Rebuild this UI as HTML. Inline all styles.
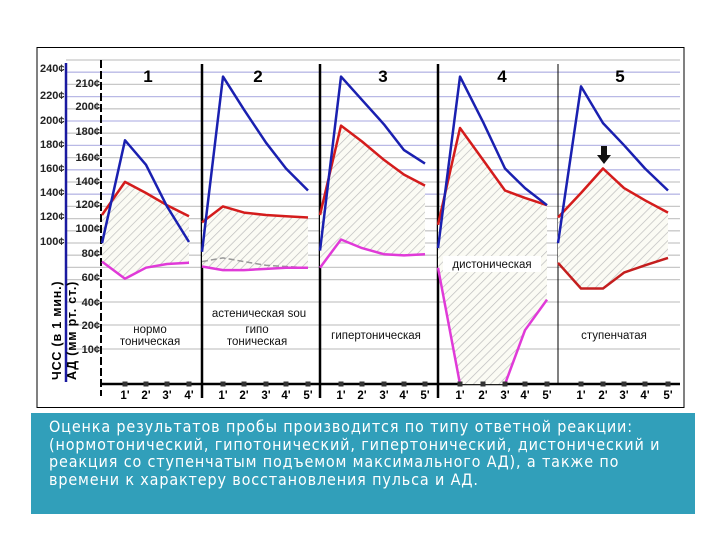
<!DOCTYPE html>
<html><head><meta charset="utf-8"><style>
body{margin:0;background:#fff;width:720px;height:540px;overflow:hidden;font-family:"Liberation Sans",sans-serif}
#note{position:absolute;left:31px;top:413px;width:664px;height:101px;background:#319fba;color:#fff;font-family:"DejaVu Sans Condensed","DejaVu Sans",sans-serif;font-size:16px;line-height:17.5px;padding:5px 0 0 18px;box-sizing:border-box;letter-spacing:0.85px;white-space:nowrap}
</style></head><body>
<svg id="chart" width="720" height="410" style="position:absolute;left:0;top:0" font-family="Liberation Sans, sans-serif">
<defs><pattern id="hatch" patternUnits="userSpaceOnUse" width="6" height="6" patternTransform="rotate(45)"><rect width="6" height="6" fill="#fbfbf4"/><line x1="0" y1="0" x2="0" y2="6" stroke="#bdbdbd" stroke-width="1.4"/></pattern></defs>
<rect x="37" y="47.5" width="647" height="360" fill="none" stroke="#000" stroke-width="1"/>
<g id="grid"></g><g id="fills"></g><g id="series"></g><g id="labels"></g>
</svg>
<div id="note">Оценка результатов пробы производится по типу ответной реакции:<br>(нормотонический, гипотонический, гипертонический, дистонический и<br>реакция со ступенчатым подъемом максимального АД), а также по<br>времени к характеру восстановления пульса и АД.</div>
<script>
const panelNames=["1","2","3","4","5"];
const timeLabels=["1'","2'","3'","4'","5'"];
const hrTicks=[240,220,200,180,160,140,120,100];
const adTicks=[210,200,180,160,140,120,100,80,60,40,20,10];
const pulse=[[88,172,152,118,89],[81,224,197,170,149,131],[82,224,205,185,164,153],[84,224,187,149,133,119],[88,216,186,168,149,131]];
const sysBP=[[111,138,129,119,110],[105,118,113,111,110,109],[111,184,171,156,144,135],[103,182,156,131,125,119],[109,129,149,133,123,113]];
const diaBP=[[73,59,68,71,72],[69,66,66,67,68,68],[68,91,84,79,78,79],[68,-27,null,-27,17,42],[72,51,51,64,70,76]];
const diaGhost=[73,76,73,70,69,68];
const NS='http://www.w3.org/2000/svg';
const panelX=[[102,125,146,167,189],[202,223,244,266,286,308],[320,341,362,384,404,425],[438,460,483,505,525,547],[558,581,603,624,645,668]];
const Y=v=>351-1.225*v;
function el(tag,attrs,parent,text){const e=document.createElementNS(NS,tag);for(const k in attrs)e.setAttribute(k,attrs[k]);if(text!==undefined)e.textContent=text;document.getElementById(parent).appendChild(e);return e;}
for(let i=0;i<19;i++){const y=60+i*12.2;const g=el('line',{x1:66,x2:680,y1:y,y2:y,stroke:(i%2==1&&i<12)?'#b9b9e6':'#c8c8c8','stroke-width':1.3},'grid');}
[302,325,349].forEach(y=>{const g=el('line',{x1:66,x2:680,y1:y,y2:y,stroke:'#c8c8c8','stroke-width':1.3},'grid');});
let a=el('line',{x1:66,x2:66,y1:63,y2:382,stroke:'#1a1aa0','stroke-width':2.5},'grid');
a=el('line',{x1:101,x2:101,y1:60,y2:396,stroke:'#000','stroke-width':2,'stroke-dasharray':'8,3'},'grid');
a=el('line',{x1:101,x2:680,y1:384,y2:384,stroke:'#000','stroke-width':2.5},'grid');
[202,320,438].forEach(x=>{const d=el('line',{x1:x,x2:x,y1:64,y2:398,stroke:'#000','stroke-width':2.5},'grid');});
a=el('line',{x1:558,x2:558,y1:64,y2:384,stroke:'#000','stroke-width':1},'grid');
hrTicks.forEach((t,i)=>{const y=[68,95,120,144,168,192,216,241][i];const e=el('text',{x:40,y:y+4,'font-size':11,'font-weight':'bold',fill:'#222'},'labels',t+'¢');});
adTicks.forEach((t,i)=>{const y=[83,106,131,157,181,204,228,253,277,302,325,349][i];const e=el('text',{x:100,y:y+4,'font-size':11,'font-weight':'bold',fill:'#222','text-anchor':'end'},'labels',t+'¢');});
a=el('text',{x:0,y:0,'font-size':12.5,'font-weight':'bold','letter-spacing':'0.8',transform:'translate(61,380) rotate(-90)'},'labels','ЧСС (в 1 мин.)');
a=el('text',{x:0,y:0,'font-size':12.5,'font-weight':'bold','letter-spacing':'0.8',transform:'translate(76,380) rotate(-90)'},'labels','АД (мм рт. ст.)');
const numX=[148,258,383,502,620];
function path(xs,vs){let d='',pen=false;xs.forEach((x,i)=>{if(vs[i]==null){pen=false;return;}d+=(pen?'L':'M')+x+','+Y(vs[i]).toFixed(1);pen=true;});return d;}
panelNames.forEach((n,p)=>{
 const xs=panelX[p];
 const bottom=diaBP[p].map(v=>v==null||v<-27?-27:v);
 const pts=xs.map((x,i)=>x+','+Y(sysBP[p][i]).toFixed(1)).concat(xs.slice().reverse().map((x,j)=>{const i=xs.length-1-j;return x+','+Y(bottom[i]).toFixed(1);}));
 const f=el('polygon',{points:pts.join(' '),fill:'url(#hatch)'},'fills');
 if(p==1){const g=el('path',{d:path(xs,diaGhost),fill:'none',stroke:'#999','stroke-width':1.5,'stroke-dasharray':'6,3'},'series');}
 let s=el('path',{d:path(xs,diaBP[p]),fill:'none',stroke:p==4?'#c41e1e':'#e03ad8','stroke-width':2.5,'stroke-linejoin':'round'},'series');
 s=el('path',{d:path(xs,sysBP[p]),fill:'none',stroke:'#d41c1c','stroke-width':2.5,'stroke-linejoin':'round'},'series');
 s=el('path',{d:path(xs,pulse[p]),fill:'none',stroke:'#1a20b0','stroke-width':2.5,'stroke-linejoin':'round'},'series');
 const t=el('text',{x:numX[p],y:82,'font-size':17,'font-weight':'bold','text-anchor':'middle'},'labels',n);
 xs.slice(1).forEach((x,i)=>{const m=el('rect',{x:x-2.5,y:381.5,width:5,height:5,fill:'#333'},'labels');
  const l=el('text',{x:x,y:392,'font-size':11.5,'font-weight':'bold','text-anchor':'middle','dominant-baseline':'hanging'},'labels',timeLabels[i]);});
});
const arr=el('path',{d:'M601,146 L607,146 L607,155 L611,155 L604,164 L597,155 L601,155Z',fill:'#111'},'labels');
const bg=el('rect',{x:443,y:256,width:98,height:16,fill:'#fff'},'labels');
[[150,333,'нормо'],[150,345,'тоническая'],[259,317,'астеническая sou'],[257,333,'гипо'],[257,345,'тоническая'],[376,339,'гипертоническая'],[492,268,'дистоническая'],[614,339,'ступенчатая']].forEach(d=>{const e=el('text',{x:d[0],y:d[1],'font-size':11.5,'text-anchor':'middle',fill:'#111'},'labels',d[2]);});
</script>
</body></html>
